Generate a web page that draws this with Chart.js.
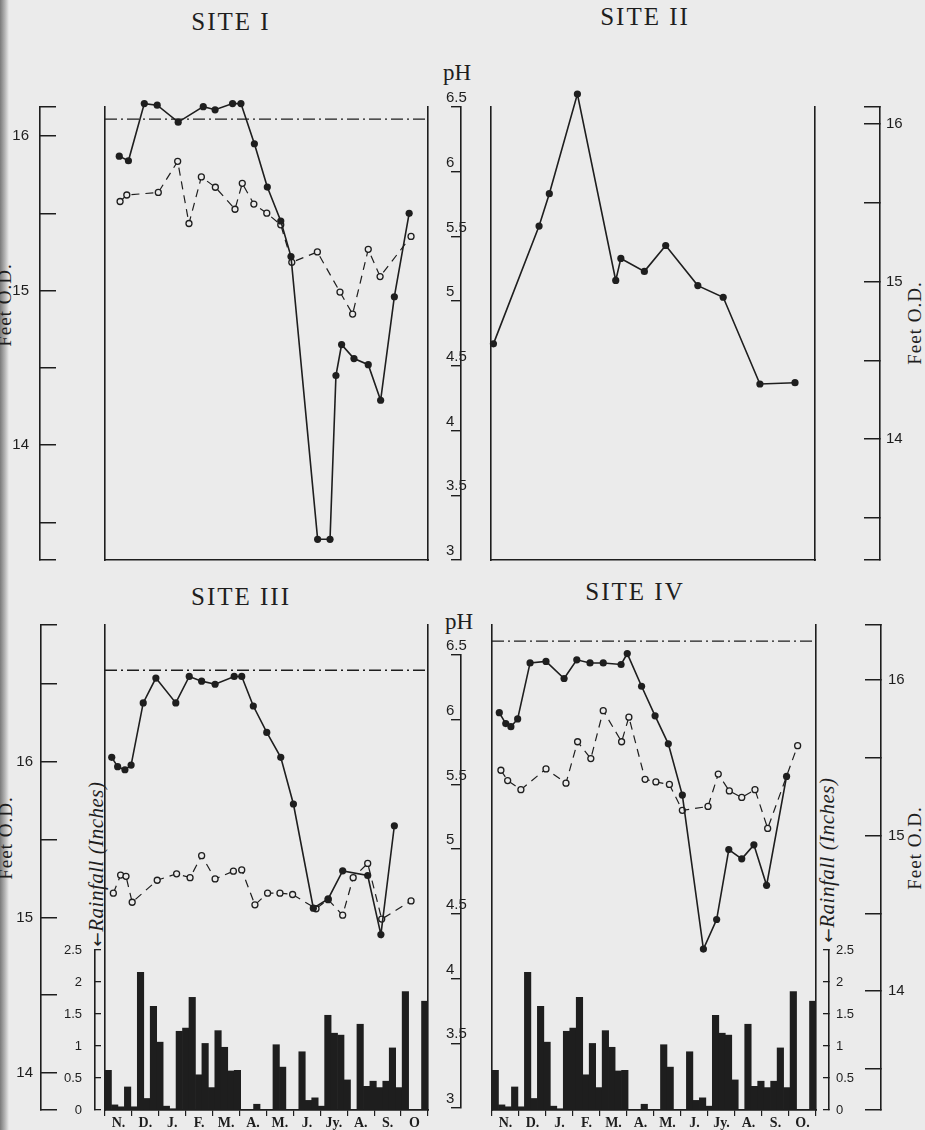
<!DOCTYPE html>
<html>
<head>
<meta charset="utf-8">
<title>Sites I - IV: water level, pH and rainfall</title>
<script src="https://cdn.jsdelivr.net/npm/chart.js@4.4.1/dist/chart.umd.min.js"></script>
<style>
  html, body { margin: 0; padding: 0; background: #ebebeb; }
  #page { position: relative; width: 925px; height: 1130px; overflow: hidden; background: #ebebeb; }
  #page canvas { position: absolute; }
  #edge { position: absolute; left: 0; top: 0; width: 9px; height: 1130px;
          background: linear-gradient(to right, #7a7a7a, #b5b5b5 55%, #ebebeb); }
  .lbl { position: absolute; color: #1e1e1e; white-space: nowrap; transform: translate(-50%, -50%); }
  .title { font-family: "Liberation Serif", serif; font-size: 25px; letter-spacing: 2px; }
  .ph { font-family: "Liberation Serif", serif; font-size: 23px; }
  .vert { font-family: "Liberation Serif", serif; font-size: 19px; letter-spacing: 1px;
          transform: translate(-50%, -50%) rotate(-90deg); }
  .rain { font-style: italic; font-size: 21px; letter-spacing: 0.5px; }
  .arrow { font-family: "DejaVu Sans", sans-serif; font-style: normal; font-size: 17px; }
</style>
</head>
<body>
<div id="page">
  <div id="edge"></div>

  <div class="lbl title" style="left:231px;top:22px">SITE I</div>
  <div class="lbl title" style="left:645px;top:17px">SITE II</div>
  <div class="lbl title" style="left:241px;top:597px">SITE III</div>
  <div class="lbl title" style="left:635px;top:592px">SITE IV</div>

  <div class="lbl ph" style="left:457px;top:73px">pH</div>
  <div class="lbl ph" style="left:459px;top:622px">pH</div>

  <div class="lbl vert" style="left:5px;top:305px">Feet O.D.</div>
  <div class="lbl vert" style="left:915px;top:323px">Feet O.D.</div>
  <div class="lbl vert" style="left:6px;top:838px">Feet O.D.</div>
  <div class="lbl vert" style="left:915px;top:848px">Feet O.D.</div>

  <div class="lbl vert rain" style="left:96px;top:864px"><span class="arrow">&larr;</span>Rainfall (Inches)</div>
  <div class="lbl vert rain" style="left:827px;top:860px"><span class="arrow">&larr;</span>Rainfall (Inches)</div>
</div>

<script>
// months counted from the start of November
const monthsIII = ["N.", "D.", "J.", "F.", "M.", "A.", "M.", "J.", "Jy.", "A.", "S.", "O"];
const monthsIV = ["N.", "D.", "J.", "F.", "M.", "A.", "M.", "J.", "Jy.", "A.", "S.", "O."];

const feetTicks = [13.5, 14, 14.5, 15, 15.5, 16, 16.5];
const feetLabels = [14, 15, 16];
const phTicks = [3, 3.5, 4, 4.5, 5, 5.5, 6, 6.5];
const rainTicks = [0, 0.5, 1, 1.5, 2, 2.5];

// weekly rainfall, inches
const rainfall = [
  0.62, 0.08, 0.05, 0.36, 0.05, 2.15, 0.18, 1.62, 1.06, 0.06,
  0.02, 1.23, 1.28, 1.76, 0.55, 1.04, 0.35, 1.24, 0.98, 0.61,
  0.62, 0, 0, 0.09, 0, 0, 1.02, 0.67, 0, 0,
  0.91, 0.15, 0.19, 0.06, 1.48, 1.2, 1.17, 0.47, 0, 1.34,
  0.37, 0.45, 0.35, 0.45, 0.97, 0.35, 1.85, 0, 0, 1.7
];

// Site I
const site1LevelMonth = [0.53, 0.87, 1.46, 1.94, 2.72, 3.65, 4.09, 4.74, 5.05, 5.55, 6.03,
  6.53, 6.91, 7.90, 8.36, 8.58, 8.79, 9.25, 9.78, 10.24, 10.75, 11.30];
const site1Level = [15.87, 15.84, 16.21, 16.20, 16.09, 16.19, 16.17, 16.21, 16.21, 15.95, 15.67,
  15.45, 15.22, 13.39, 13.39, 14.45, 14.65, 14.56, 14.52, 14.29, 14.96, 15.50];
const site1PhMonth = [0.56, 0.81, 1.98, 2.70, 3.12, 3.58, 4.10, 4.83, 5.10, 5.53, 6.01, 6.53,
  6.94, 7.89, 8.73, 9.20, 9.78, 10.22, 11.37];
const site1Ph = [5.77, 5.82, 5.84, 6.08, 5.60, 5.96, 5.88, 5.71, 5.91, 5.75, 5.68, 5.59,
  5.30, 5.38, 5.07, 4.90, 5.40, 5.19, 5.50];
const site1Ground = 16.11;

// Site II
const site2Month = [0.09, 1.78, 2.16, 3.20, 4.62, 4.81, 5.68, 6.47, 7.66, 8.60, 9.96, 11.26];
const site2Ph = [4.67, 5.58, 5.83, 6.60, 5.16, 5.33, 5.23, 5.43, 5.12, 5.03, 4.36, 4.37];

// Site III
const site3LevelMonth = [0.25, 0.47, 0.74, 0.97, 1.42, 1.89, 2.63, 3.13, 3.59, 4.09, 4.80,
  5.08, 5.51, 6.01, 6.53, 7.00, 7.74, 8.29, 8.83, 9.76, 10.25, 10.75];
const site3Level = [16.03, 15.97, 15.95, 15.98, 16.38, 16.54, 16.38, 16.55, 16.52, 16.50, 16.55,
  16.55, 16.36, 16.19, 16.03, 15.73, 15.06, 15.12, 15.30, 15.27, 14.89, 15.59];
const site3PhMonth = [0.31, 0.58, 0.78, 1.01, 1.94, 2.66, 3.16, 3.59, 4.09, 4.77, 5.08, 5.57,
  6.04, 6.50, 6.97, 7.84, 8.29, 8.83, 9.22, 9.76, 10.28, 11.37];
const site3Ph = [4.66, 4.80, 4.79, 4.59, 4.76, 4.81, 4.78, 4.95, 4.77, 4.83, 4.84, 4.57,
  4.66, 4.66, 4.65, 4.54, 4.61, 4.49, 4.78, 4.89, 4.46, 4.60];
const site3Ground = 16.59;

// Site IV
const site4LevelMonth = [0.27, 0.51, 0.70, 0.95, 1.41, 2.00, 2.67, 3.14, 3.63, 4.12, 4.78, 5.01,
  5.54, 6.04, 6.53, 7.05, 7.83, 8.32, 8.77, 9.25, 9.70, 10.17, 10.91];
const site4Level = [15.79, 15.72, 15.70, 15.75, 16.11, 16.12, 16.01, 16.13, 16.11, 16.11, 16.10, 16.17,
  15.96, 15.77, 15.59, 15.26, 14.27, 14.46, 14.91, 14.85, 14.94, 14.68, 15.38];
const site4PhMonth = [0.33, 0.58, 1.07, 2.00, 2.74, 3.17, 3.66, 4.12, 4.80, 5.07, 5.67, 6.07,
  6.57, 7.05, 8.00, 8.38, 8.79, 9.25, 9.74, 10.21, 11.32];
const site4Ph = [5.61, 5.53, 5.46, 5.62, 5.51, 5.83, 5.70, 6.07, 5.83, 6.02, 5.54, 5.52,
  5.50, 5.30, 5.33, 5.58, 5.45, 5.40, 5.46, 5.16, 5.80];
const site4Ground = 16.25;

const INK = "#1e1e1e";
const PAPER = "#ebebeb";
const SANS = "'Liberation Sans', 'DejaVu Sans', sans-serif";
const SERIF = "'Liberation Serif', 'DejaVu Serif', serif";

Chart.defaults.font.family = SANS;
Chart.defaults.color = INK;

const common = {
  responsive: false,
  animation: false,
  events: [],
  plugins: { legend: { display: false }, tooltip: { enabled: false } }
};

function place(left, top, width, height) {
  const c = document.createElement("canvas");
  c.width = width;
  c.height = height;
  c.style.left = left + "px";
  c.style.top = top + "px";
  c.style.width = width + "px";
  c.style.height = height + "px";
  document.getElementById("page").appendChild(c);
  return c;
}

// fixed axis size, and no extra room asked for the end labels
function fit(w, h) {
  return (s) => {
    if (w !== undefined) s.width = w;
    if (h !== undefined) s.height = h;
    s.paddingTop = s.paddingBottom = s.paddingLeft = s.paddingRight = 0;
  };
}

function pts(xs, ys) {
  return xs.map((x, i) => ({ x: x, y: ys[i] }));
}

function solidSet(xs, ys, axis) {
  return {
    data: pts(xs, ys), yAxisID: axis, borderColor: INK, borderWidth: 1.6, tension: 0,
    pointRadius: 3.6, pointBackgroundColor: INK, pointBorderColor: INK, pointBorderWidth: 0, clip: false
  };
}

function dashedSet(xs, ys, axis) {
  return {
    data: pts(xs, ys), yAxisID: axis, borderColor: INK, borderWidth: 1.2, borderDash: [8, 6], tension: 0,
    pointRadius: 3, pointBackgroundColor: PAPER, pointBorderColor: INK, pointBorderWidth: 1.3, clip: false
  };
}

function groundSet(level, axis) {
  return {
    data: [{ x: 0, y: level }, { x: 12, y: level }], yAxisID: axis, borderColor: INK,
    borderWidth: 1.3, borderDash: [12, 4, 2, 4], pointRadius: 0, clip: false
  };
}

// box bottom line, months 0..12
function timeAxis() {
  return {
    type: "linear", position: "bottom", min: 0, max: 12,
    grid: { display: false }, ticks: { display: false },
    border: { display: true, color: INK, width: 1.6 },
    afterFit: fit(undefined, 0)
  };
}

// scale that only carries data, its border is a side of the box
function plainAxis(pos, min, max, border) {
  return {
    type: "linear", position: pos, min: min, max: max, weight: 0,
    grid: { display: false }, ticks: { display: false },
    border: { display: border, color: INK, width: 1.6 },
    afterFit: fit(0)
  };
}

function gapAxis(pos, w, border) {
  return {
    type: "linear", position: pos, weight: 1,
    grid: { display: false }, ticks: { display: false },
    border: { display: border, color: INK, width: 1.6 },
    afterFit: fit(w)
  };
}

function feetAxis(pos, min, max, pad, w) {
  return {
    type: "linear", position: pos, weight: 2, min: min, max: max,
    afterBuildTicks: (s) => {
      s.ticks = [min].concat(feetTicks.filter((v) => v > min && v < max), [max]).map((v) => ({ value: v }));
    },
    ticks: {
      autoSkip: false, padding: pad, color: INK, font: { family: SANS, size: 15 },
      callback: (v) => (feetLabels.includes(v) ? String(v) : "")
    },
    grid: { drawOnChartArea: false, tickLength: -16, color: INK, lineWidth: 1.5 },
    border: { color: INK, width: 1.6 },
    afterFit: fit(w)
  };
}

function rainAxis(pos, pad, w) {
  return {
    type: "linear", position: pos, weight: 2, min: 0, max: 2.5,
    afterBuildTicks: (s) => { s.ticks = rainTicks.map((v) => ({ value: v })); },
    ticks: { autoSkip: false, padding: pad, color: INK, font: { family: SANS, size: 13 }, callback: (v) => String(v) },
    grid: { drawOnChartArea: false, tickLength: -6, color: INK, lineWidth: 1.3 },
    border: { color: INK, width: 1.6 },
    afterFit: fit(w)
  };
}

function monthAxis(labels) {
  return {
    type: "category", position: "bottom", labels: labels, offset: true,
    grid: { offset: true, drawOnChartArea: false, tickLength: 6, color: INK, lineWidth: 1.2 },
    border: { color: INK, width: 1.6 },
    ticks: { autoSkip: false, maxRotation: 0, padding: -1, color: INK, font: { family: SERIF, size: 14, weight: "bold" } },
    afterFit: fit(undefined, 20)
  };
}

function phAxisChart(top, height, areaTop, areaBottom) {
  new Chart(place(401, top, 70, height), {
    type: "line",
    data: { datasets: [] },
    options: Object.assign({}, common, {
      layout: { padding: { left: 0, right: 0, top: areaTop - top, bottom: top + height - areaBottom } },
      scales: {
        x: { display: false },
        y: {
          type: "linear", position: "left", min: 3, max: 6.5,
          afterBuildTicks: (s) => { s.ticks = phTicks.map((v) => ({ value: v })); },
          // mirrored so the labels may sit across the axis line, as in the drawing
          ticks: {
            autoSkip: false, mirror: true, padding: -15, labelOffset: -9,
            color: INK, font: { family: SANS, size: 15 }, callback: (v) => String(v)
          },
          grid: { drawOnChartArea: false, tickLength: 10, color: INK, lineWidth: 1.4 },
          border: { color: INK, width: 1.6 },
          afterFit: fit(60)
        }
      }
    })
  });
}

function rainChart(left, width, pad, scales) {
  new Chart(place(left, 930, width, 200), {
    type: "bar",
    data: {
      datasets: [{
        data: rainfall.map((v, i) => ({ x: i + 0.5, y: v })),
        xAxisID: "xw", yAxisID: "yRain", backgroundColor: INK,
        barPercentage: 1, categoryPercentage: 1, borderWidth: 0
      }]
    },
    options: Object.assign({}, common, {
      layout: { padding: pad },
      scales: Object.assign({
        xw: { type: "linear", min: 0, max: rainfall.length, offset: false, display: false }
      }, scales)
    })
  });
}

// SITE I
new Chart(place(0, 0, 445, 580), {
  type: "line",
  data: {
    datasets: [
      solidSet(site1LevelMonth, site1Level, "yFeet"),
      dashedSet(site1PhMonth, site1Ph, "yPh"),
      groundSet(site1Ground, "yFeet")
    ]
  },
  options: Object.assign({}, common, {
    layout: { padding: { left: 0, right: 17, top: 107, bottom: 20 } },
    scales: {
      x: timeAxis(),
      yFeet: feetAxis("left", 13.256, 16.188, 27, 40),
      yGap: gapAxis("left", 65, true),
      yPh: plainAxis("right", 3, 6.5, true)
    }
  })
});

// SITE II frame and feet axis
new Chart(place(470, 0, 455, 580), {
  type: "line",
  data: { datasets: [] },
  options: Object.assign({}, common, {
    layout: { padding: { left: 21, right: 0, top: 107, bottom: 20 } },
    scales: {
      x: timeAxis(),
      yPh: plainAxis("left", 3, 6.5, true),
      yGap: gapAxis("right", 65, true),
      yFeet: feetAxis("right", 13.232, 16.108, 22, 45)
    }
  })
});

// SITE II data: taller plot area so the peak above 6.5 is still drawn
new Chart(place(470, 0, 455, 580), {
  type: "line",
  data: { datasets: [solidSet(site2Month, site2Ph, "yPh")] },
  options: Object.assign({}, common, {
    layout: { padding: { left: 21, right: 110, top: 85, bottom: 20 } },
    scales: {
      x: { type: "linear", min: 0, max: 12, display: false },
      yPh: { type: "linear", min: 3, max: 6.67, display: false }
    }
  })
});

phAxisChart(0, 580, 107, 560);

// SITE III
new Chart(place(0, 590, 445, 540), {
  type: "line",
  data: {
    datasets: [
      solidSet(site3LevelMonth, site3Level, "yFeet"),
      dashedSet(site3PhMonth, site3Ph, "yPh"),
      groundSet(site3Ground, "yFeet")
    ]
  },
  options: Object.assign({}, common, {
    layout: { padding: { left: 0, right: 17, top: 35, bottom: 20 } },
    scales: {
      x: timeAxis(),
      yFeet: feetAxis("left", 13.762, 16.881, 24, 41),
      yGap: gapAxis("left", 64, true),
      yPh: plainAxis("right", 2.985, 6.732, true)
    }
  })
});

rainChart(0, 445, { left: 0, right: 17, top: 20, bottom: 0 }, {
  xm: monthAxis(monthsIII),
  yRain: rainAxis("left", 19, 95),
  yGap: gapAxis("left", 10, false)
});

// SITE IV
new Chart(place(470, 590, 455, 540), {
  type: "line",
  data: {
    datasets: [
      solidSet(site4LevelMonth, site4Level, "yFeet"),
      dashedSet(site4PhMonth, site4Ph, "yPh"),
      groundSet(site4Ground, "yFeet")
    ]
  },
  options: Object.assign({}, common, {
    layout: { padding: { left: 22, right: 0, top: 35, bottom: 20 } },
    scales: {
      x: timeAxis(),
      yPh: plainAxis("left", 2.985, 6.732, true),
      yGap: gapAxis("right", 65, true),
      yFeet: feetAxis("right", 13.235, 16.354, 23, 44)
    }
  })
});

rainChart(470, 455, { left: 22, right: 0, top: 20, bottom: 0 }, {
  xm: monthAxis(monthsIV),
  yGap: gapAxis("right", 13, false),
  yRain: rainAxis("right", 13, 96)
});

phAxisChart(590, 540, 655, 1108);
</script>
</body>
</html>
